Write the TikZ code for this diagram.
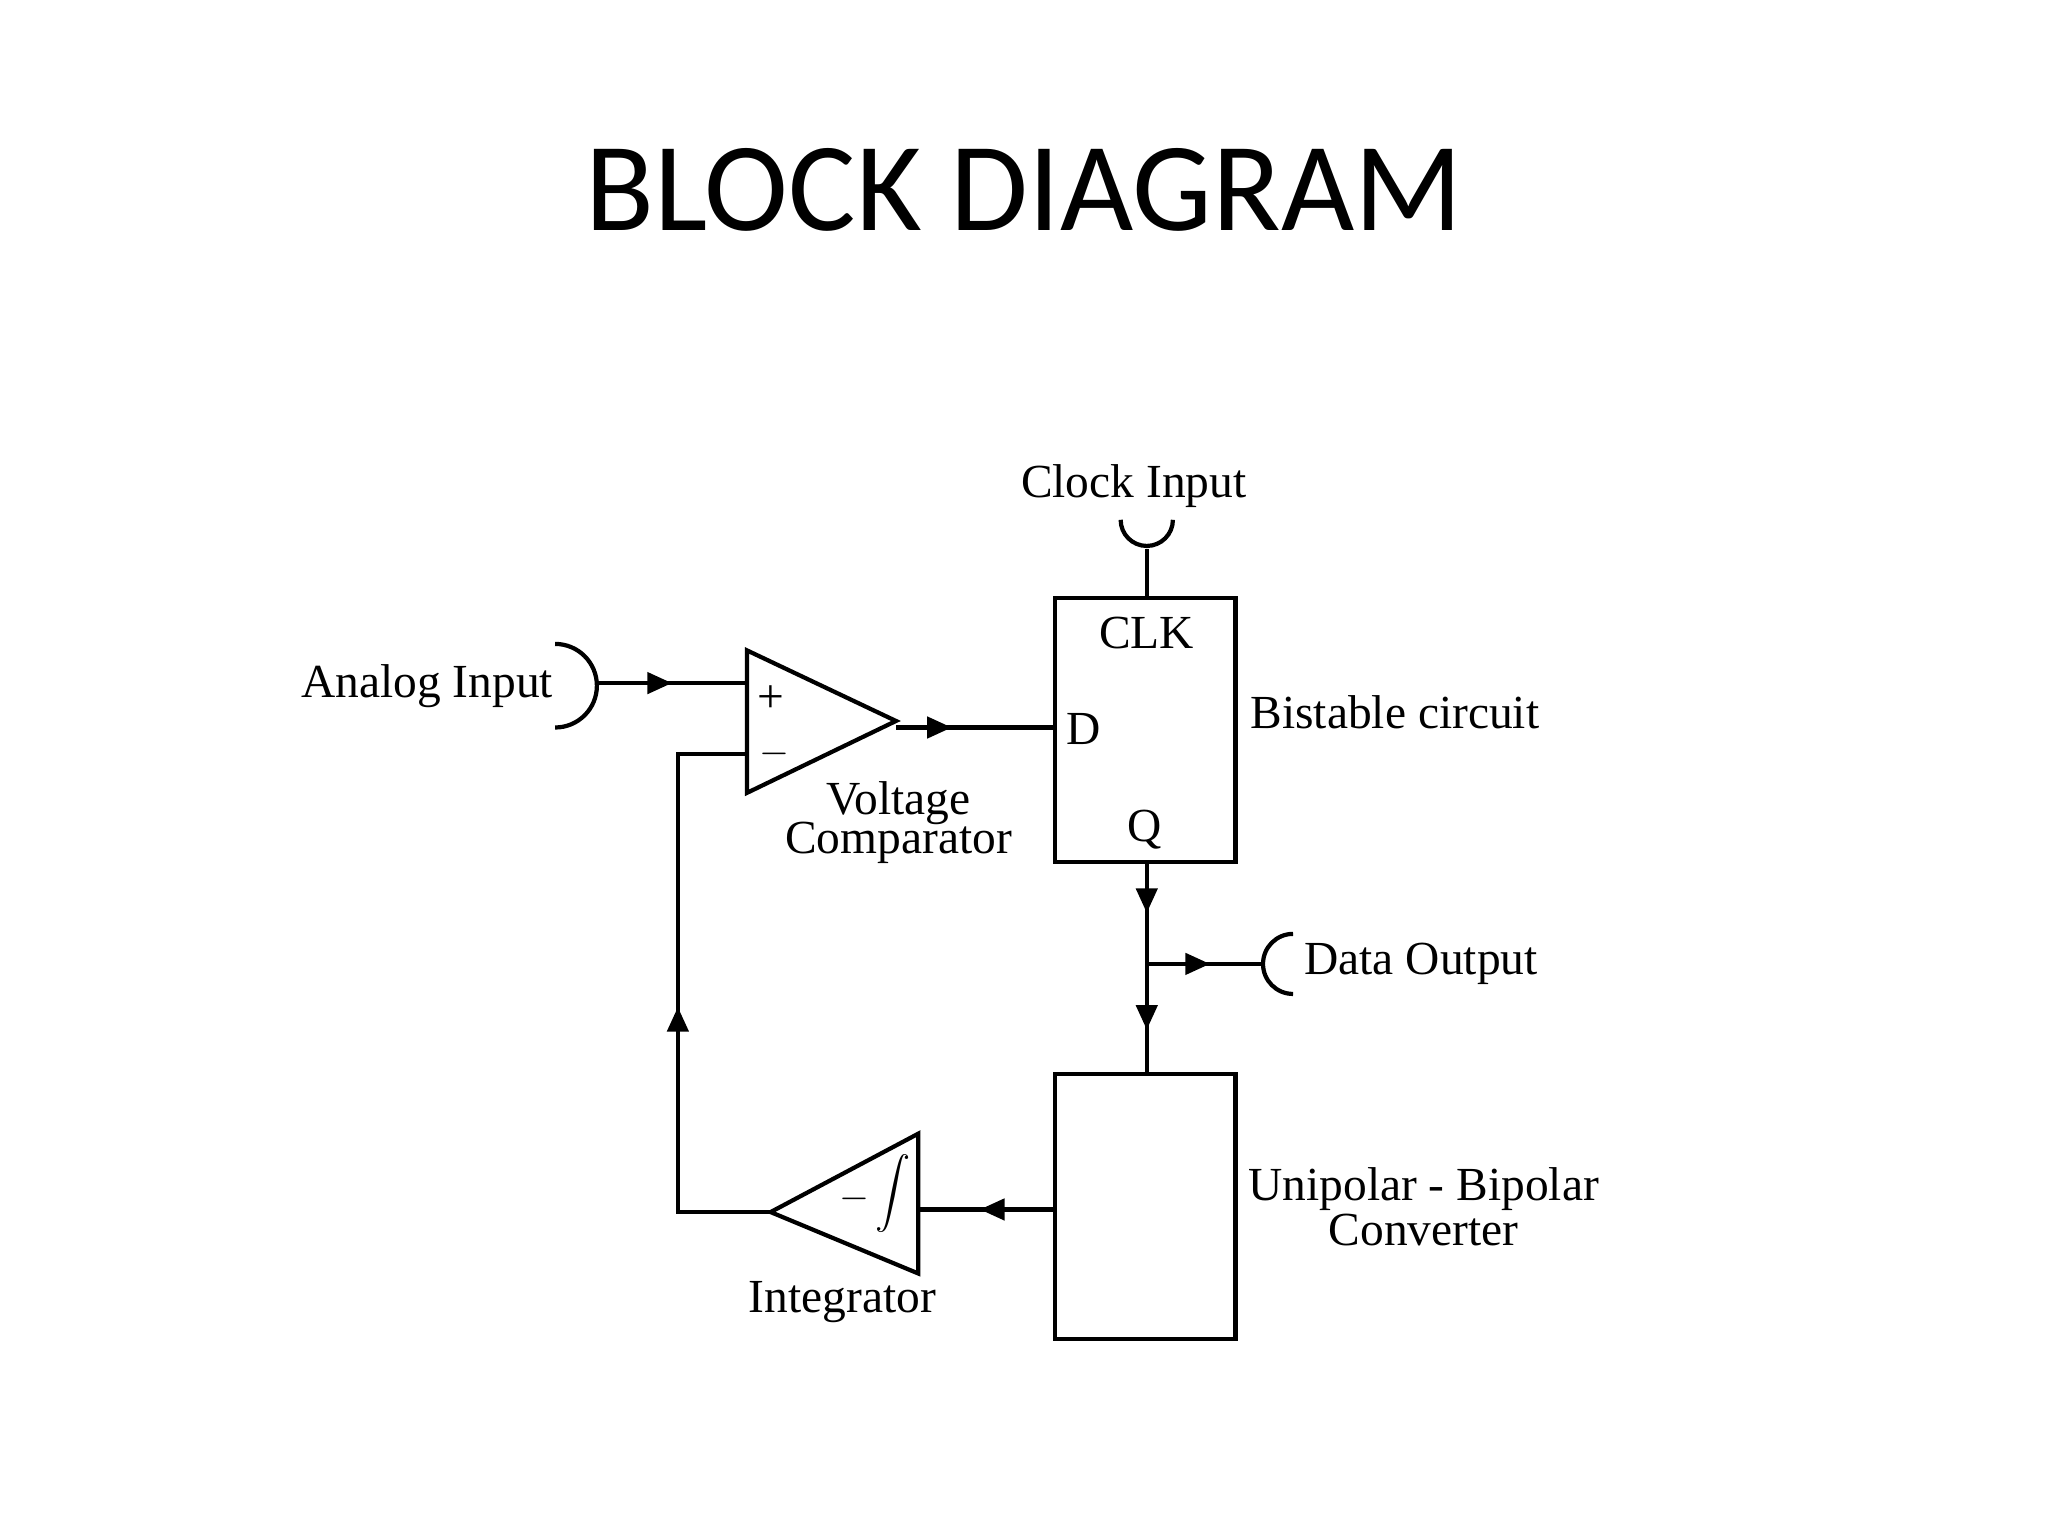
\documentclass[tikz,border=0pt]{standalone}
\usepackage{fontspec}
\setmainfont{Liberation Serif}
\newfontfamily\titlefont{Carlito}
\usetikzlibrary{decorations.markings,arrows.meta}
\begin{document}
\begin{tikzpicture}[x=0.013061cm,y=-0.013061cm,
  wire/.style={line width=1.2pt},
  mid/.style={wire,decoration={markings,mark=at position #1 with {\arrow{Triangle[length=7pt,width=6pt]}}},postaction=decorate},
  lbl/.style={font=\fontsize{13.5}{15}\selectfont,inner sep=0pt,align=center},
  blk/.style={draw,line width=1.2pt}]
\useasboundingbox (0,0) rectangle (1568,1176);
\node[font=\titlefont\fontsize{36}{40}\selectfont] (title) at (784,145) {BLOCK DIAGRAM};
% bistable
\draw[blk] (808,458) rectangle (946,660);
\coordinate (bt) at (878,458); \coordinate (bb) at (878,660); \coordinate (bd) at (808,557);
\node[lbl] at (878,485) {CLK};
\node[lbl] at (830,558) {D};
\node[lbl] at (876,635) {Q};
\node[lbl] (bis) at (1068,545) {Bistable circuit};
% clock
\node[lbl] (clk) at (868,372) {Clock Input};
\draw[wire] (858,398) arc[start angle=180,end angle=0,radius=20];
\coordinate (ck) at (878,420);
\draw[wire] (ck) -- (bt);
% analog input
\node[lbl] (ain) at (327,525) {Analog Input};
\draw[wire] (425,493) arc[start angle=-90,end angle=90,radius=32];
\coordinate (ai) at (457,523);
\coordinate (cp) at (572,523);
\draw[mid=0.5] (ai) -- (cp);
% comparator
\draw[blk] (572,498) -- (572,607) -- (686,552) -- cycle;
\coordinate (co) at (686,557);
\node[lbl] at (590,535) {+};
\node[lbl,font=\fontsize{11}{12}\selectfont] at (593,577) {$-$};
\node[lbl] (vc) at (688,630) {Voltage\\[-4pt]Comparator};
\draw[mid=0.35] (co) -- (bd);
% Q line
\coordinate (br) at (878,738);
\coordinate (ut) at (878,822);
\draw[mid=0.5] (bb) -- (br);
\draw[mid=0.6] (br) -- (ut);
\coordinate (do) at (966,738);
\draw[mid=0.55] (br) -- (do);
\draw[wire] (990,715) arc[start angle=-90,end angle=-270,radius=23];
\node[lbl] (dout) at (1088,738) {Data Output};
% converter
\draw[blk] (808,822) rectangle (946,1025);
\coordinate (cl) at (808,926);
\node[lbl] (ubc) at (1090,924) {Unipolar - Bipolar\\[-2pt]Converter};
% integrator
\draw[blk] (590,928) -- (703,868) -- (703,975) -- cycle;
\coordinate (ir) at (703,926);
\coordinate (it) at (590,928);
\node[lbl,font=\fontsize{11}{12}\selectfont] at (654,918) {$-$};
\node[font=\fontsize{16}{18}\selectfont,inner sep=0pt] at (684,914) {$\displaystyle\int$};
\node[lbl] (int) at (645,997) {Integrator};
\draw[mid=0.55] (cl) -- (ir);
% feedback
\coordinate (cm) at (572,577);
\draw[wire,decoration={markings,mark=at position 0.48 with {\arrow{Triangle[length=7pt,width=6pt]}}},postaction=decorate]
  (it) -- (519,928) -- (519,577) -- (cm);
\end{tikzpicture}
\end{document}
